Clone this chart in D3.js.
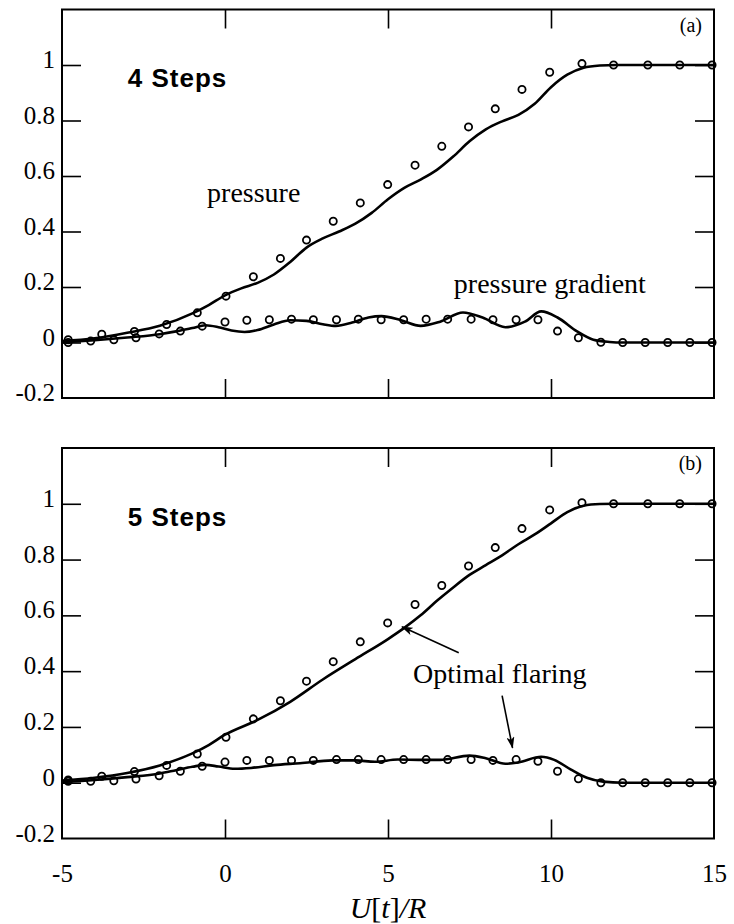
<!DOCTYPE html>
<html>
<head>
<meta charset="utf-8">
<script src="https://cdn.jsdelivr.net/npm/d3@7"></script>
<style>
  body { margin: 0; background: #fff; }
</style>
</head>
<body>
<div id="chart"></div>
<script>
// axis ticks
var xTicks = [-5, 0, 5, 10, 15];
var xInnerTicks = [0, 5, 10];
var yTicks = [-0.2, 0, 0.2, 0.4, 0.6, 0.8, 1];
var yInnerTicks = [0, 0.2, 0.4, 0.6, 0.8, 1];

// experiment (circles), pressure
var expPressureX = [-4.81, -3.78, -2.78, -1.79, -0.85, 0.03, 0.87, 1.7, 2.5, 3.32, 4.15, 4.99, 5.83, 6.65, 7.47, 8.29, 9.11, 9.96, 10.95, 11.92, 12.97, 13.95, 14.94];
var expPressureA = [0.01, 0.03, 0.04, 0.065, 0.107, 0.167, 0.237, 0.303, 0.369, 0.437, 0.503, 0.569, 0.639, 0.707, 0.777, 0.842, 0.912, 0.974, 1.005, 1, 1, 1, 1];
var expPressureB = [0.01, 0.023, 0.04, 0.062, 0.103, 0.163, 0.229, 0.294, 0.364, 0.434, 0.505, 0.573, 0.639, 0.707, 0.777, 0.843, 0.911, 0.978, 1.004, 1, 1, 1, 1];

// experiment (circles), pressure gradient
var expGradX = [-4.81, -4.12, -3.41, -2.73, -2.02, -1.37, -0.7, 0.0, 0.67, 1.36, 2.04, 2.71, 3.42, 4.09, 4.79, 5.48, 6.17, 6.83, 7.55, 8.22, 8.93, 9.6, 10.2, 10.84, 11.53, 12.2, 12.89, 13.58, 14.26, 14.94];
var expGradA = [0.0, 0.005, 0.01, 0.017, 0.031, 0.041, 0.059, 0.074, 0.08, 0.082, 0.084, 0.082, 0.082, 0.084, 0.082, 0.082, 0.084, 0.084, 0.084, 0.082, 0.082, 0.082, 0.041, 0.017, 0.001, 0, 0, 0, 0, 0];
var expGradB = [0.005, 0.005, 0.007, 0.013, 0.025, 0.041, 0.059, 0.074, 0.08, 0.08, 0.08, 0.08, 0.083, 0.083, 0.083, 0.083, 0.083, 0.083, 0.083, 0.08, 0.083, 0.077, 0.041, 0.014, 0, 0, 0, 0, 0, 0];

// computed curves, 4 steps
var calcPressureXA = [-5, -4, -3, -2, -1, -0.5, 0, 0.5, 1, 1.5, 2, 2.5, 3, 3.5, 4, 4.5, 5, 5.5, 6, 6.5, 7, 7.5, 8, 8.5, 9, 9.5, 10, 10.5, 11, 11.5, 12, 15];
var calcPressureA = [0.005, 0.015, 0.035, 0.06, 0.105, 0.135, 0.17, 0.195, 0.215, 0.245, 0.29, 0.342, 0.375, 0.4, 0.428, 0.467, 0.516, 0.557, 0.587, 0.622, 0.67, 0.725, 0.768, 0.797, 0.82, 0.86, 0.92, 0.965, 0.99, 0.998, 1, 1];
var calcGradXA = [-5, -4, -3, -2, -1.5, -1, -0.6, -0.2, 0.2, 0.6, 1, 1.5, 2, 2.5, 3, 3.4, 3.9, 4.4, 4.8, 5.4, 6, 6.6, 7.3, 7.9, 8.6, 9.2, 9.7, 10.2, 10.8, 11.3, 11.8, 12.2, 15];
var calcGradA = [0, 0.008, 0.018, 0.03, 0.04, 0.052, 0.062, 0.055, 0.043, 0.038, 0.045, 0.065, 0.08, 0.078, 0.066, 0.06, 0.072, 0.09, 0.095, 0.08, 0.06, 0.075, 0.108, 0.09, 0.055, 0.075, 0.112, 0.09, 0.04, 0.01, 0.002, 0, 0];

// computed curves, 5 steps
var calcPressureXB = [-5, -4, -3, -2, -1, -0.5, 0, 1, 2, 3, 4, 5, 5.5, 6, 6.5, 7, 7.5, 8, 8.5, 9, 9.5, 10, 10.5, 11, 11.5, 12, 15];
var calcPressureB = [0.008, 0.018, 0.035, 0.062, 0.105, 0.135, 0.172, 0.225, 0.29, 0.37, 0.443, 0.515, 0.555, 0.6, 0.652, 0.7, 0.745, 0.78, 0.815, 0.855, 0.89, 0.93, 0.97, 0.993, 0.999, 1, 1];
var calcGradXB = [-5, -4, -3, -2, -1.5, -1, -0.6, -0.2, 0.3, 0.8, 1.5, 2.3, 3.3, 4, 4.6, 5.3, 6, 6.6, 7.5, 8, 8.6, 9, 9.7, 10.1, 10.6, 11.1, 11.6, 12.2, 15];
var calcGradB = [0.003, 0.01, 0.02, 0.033, 0.045, 0.057, 0.064, 0.058, 0.05, 0.053, 0.063, 0.07, 0.08, 0.08, 0.075, 0.083, 0.082, 0.082, 0.097, 0.088, 0.068, 0.073, 0.093, 0.082, 0.048, 0.018, 0.004, 0, 0];

var width = 734, height = 924;
var left = 62, right = 714;
var serif = "'Liberation Serif', 'Times New Roman', serif";

var svg = d3.select("#chart")
  .append("svg")
    .attr("width", width)
    .attr("height", height);

var defs = svg.append("defs");
defs.append("marker")
    .attr("id", "head")
    .attr("viewBox", "0 0 12 8")
    .attr("refX", 11)
    .attr("refY", 4)
    .attr("markerWidth", 12)
    .attr("markerHeight", 8)
    .attr("markerUnits", "userSpaceOnUse")
    .attr("orient", "auto")
  .append("path")
    .attr("d", "M0,0 L12,4 L0,8 L3,4 Z")
    .attr("fill", "#000");

var x = d3.scaleLinear().domain([-5, 15]).range([left, right]);

function zip(xs, ys) {
  return xs.map(function(v, i) { return [v, ys[i]]; });
}

function drawPanel(cfg) {
  var y = d3.scaleLinear().domain([-0.2, 1.2]).range([cfg.bottom, cfg.top]);
  var g = svg.append("g");

  // inner ticks on all four sides
  var tickLen = 19;
  g.append("g")
    .attr("transform", "translate(" + left + ",0)")
    .call(d3.axisLeft(y).tickValues(yInnerTicks).tickSizeInner(-tickLen).tickSizeOuter(0).tickFormat(""));
  g.append("g")
    .attr("transform", "translate(" + right + ",0)")
    .call(d3.axisRight(y).tickValues(yInnerTicks).tickSizeInner(-tickLen).tickSizeOuter(0).tickFormat(""));
  g.append("g")
    .attr("transform", "translate(0," + cfg.top + ")")
    .call(d3.axisTop(x).tickValues(xInnerTicks).tickSizeInner(-tickLen).tickSizeOuter(0).tickFormat(""));
  g.append("g")
    .attr("transform", "translate(0," + cfg.bottom + ")")
    .call(d3.axisBottom(x).tickValues(xInnerTicks).tickSizeInner(-tickLen).tickSizeOuter(0).tickFormat(""));
  g.selectAll(".domain").remove();
  g.selectAll(".tick line").attr("stroke", "#000").attr("stroke-width", 1.6);

  // y labels
  var yl = g.append("g")
    .attr("transform", "translate(" + left + ",0)")
    .call(d3.axisLeft(y).tickValues(yTicks).tickSize(0).tickPadding(7).tickFormat(function(d) { return String(d); }))
    .attr("font-family", serif)
    .attr("font-size", 25);
  yl.select(".domain").remove();
  yl.selectAll("text")
    .attr("dy", "0.1em")
    .attr("fill", "#000");

  if (cfg.xLabels) {
    var xl = g.append("g")
      .attr("transform", "translate(0," + cfg.bottom + ")")
      .call(d3.axisBottom(x).tickValues(xTicks).tickSize(0).tickFormat(function(d) { return String(d); }))
      .attr("font-family", serif)
      .attr("font-size", 25);
    xl.select(".domain").remove();
    xl.selectAll("text")
      .attr("y", 43.5)
      .attr("dy", 0)
      .attr("fill", "#000");
  }

  // frame
  g.append("rect")
    .attr("x", left)
    .attr("y", cfg.top)
    .attr("width", right - left)
    .attr("height", cfg.bottom - cfg.top)
    .attr("fill", "none")
    .attr("stroke", "#000")
    .attr("stroke-width", 2);

  var line = d3.line()
    .x(function(d) { return x(d[0]); })
    .y(function(d) { return y(d[1]); })
    .curve(d3.curveMonotoneX);

  [cfg.pressureLine, cfg.gradLine].forEach(function(pts) {
    g.append("path")
      .datum(pts)
      .attr("d", line)
      .attr("fill", "none")
      .attr("stroke", "#000")
      .attr("stroke-width", 2.6);
  });

  [cfg.pressureDots, cfg.gradDots].forEach(function(pts) {
    g.append("g")
      .selectAll("circle")
      .data(pts)
      .enter().append("circle")
        .attr("cx", function(d) { return x(d[0]); })
        .attr("cy", function(d) { return y(d[1]); })
        .attr("r", 3.6)
        .attr("fill", "none")
        .attr("stroke", "#000")
        .attr("stroke-width", 1.8);
  });

  // panel letter
  g.append("text")
    .attr("x", 702)
    .attr("y", cfg.top + 22)
    .attr("text-anchor", "end")
    .attr("font-family", serif)
    .attr("font-size", 20)
    .text(cfg.letter);

  g.append("text")
    .attr("x", x(-2.98))
    .attr("y", y(0.92))
    .attr("font-family", "'Liberation Sans', Arial, sans-serif")
    .attr("font-weight", "bold")
    .attr("font-size", 26)
    .attr("letter-spacing", 1)
    .text(cfg.title);

  cfg.notes.forEach(function(n) {
    g.append("text")
      .attr("x", x(n.x))
      .attr("y", y(n.y))
      .attr("font-family", serif)
      .attr("font-size", 28)
      .text(n.text);
  });

  cfg.arrows.forEach(function(a) {
    g.append("line")
      .attr("x1", x(a[0][0]))
      .attr("y1", y(a[0][1]))
      .attr("x2", x(a[1][0]))
      .attr("y2", y(a[1][1]))
      .attr("stroke", "#000")
      .attr("stroke-width", 1.6)
      .attr("marker-end", "url(#head)");
  });
}

drawPanel({
  top: 9.5, bottom: 398, letter: "(a)", title: "4 Steps", xLabels: false,
  pressureLine: zip(calcPressureXA, calcPressureA),
  gradLine: zip(calcGradXA, calcGradA),
  pressureDots: zip(expPressureX, expPressureA),
  gradDots: zip(expGradX, expGradA),
  notes: [{x: -0.55, y: 0.505, text: "pressure"}, {x: 7.02, y: 0.18, text: "pressure gradient"}],
  arrows: []
});

drawPanel({
  top: 448, bottom: 838.5, letter: "(b)", title: "5 Steps", xLabels: true,
  pressureLine: zip(calcPressureXB, calcPressureB),
  gradLine: zip(calcGradXB, calcGradB),
  pressureDots: zip(expPressureX, expPressureB),
  gradDots: zip(expGradX, expGradB),
  notes: [{x: 5.77, y: 0.359, text: "Optimal flaring"}],
  arrows: [[[7.17, 0.466], [5.43, 0.559]], [[8.5, 0.312], [8.82, 0.125]]]
});

// x axis title
var title = svg.append("text")
  .attr("x", x(5))
  .attr("y", 918)
  .attr("text-anchor", "middle")
  .attr("font-family", serif)
  .attr("font-size", 30);
title.append("tspan").attr("font-style", "italic").text("U");
title.append("tspan").text("[");
title.append("tspan").attr("font-style", "italic").text("t");
title.append("tspan").text("]");
title.append("tspan").attr("font-style", "italic").text("/R");
</script>
</body>
</html>
